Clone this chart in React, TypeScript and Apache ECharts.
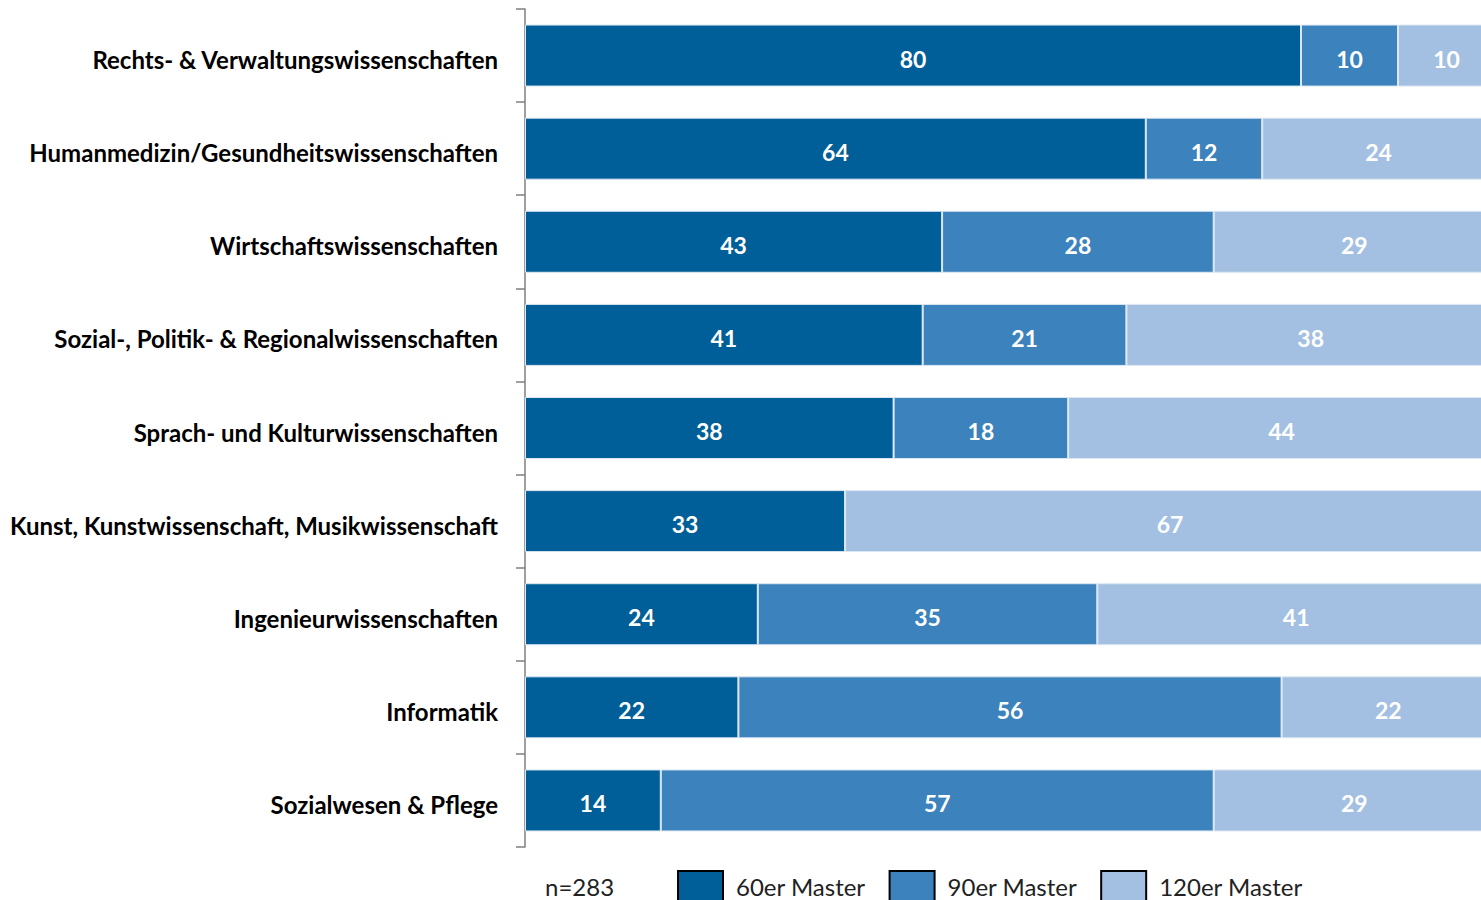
import React, { useEffect, useRef } from "react";
import * as echarts from "echarts";

const categories = [
  "Rechts- & Verwaltungswissenschaften",
  "Humanmedizin/Gesundheitswissenschaften",
  "Wirtschaftswissenschaften",
  "Sozial-, Politik- & Regionalwissenschaften",
  "Sprach- und Kulturwissenschaften",
  "Kunst, Kunstwissenschaft, Musikwissenschaft",
  "Ingenieurwissenschaften",
  "Informatik",
  "Sozialwesen & Pflege",
];
const master60 = [80, 64, 43, 41, 38, 33, 24, 22, 14];
const master90 = [10, 12, 28, 21, 18, 0, 35, 56, 57];
const master120 = [10, 24, 29, 38, 44, 67, 41, 22, 29];
const seriesNames = ["60er Master", "90er Master", "120er Master"];
const colors = ["#005e98", "#3c82bd", "#a3c0e2"];
const noteText = "n=283";

const FONT = "Lato, 'Open Sans', sans-serif";

export default function App() {
  const ref = useRef<HTMLDivElement>(null);
  useEffect(() => {
    document.body.style.margin = "0";
    document.body.style.overflow = "hidden";
    const chart = echarts.init(ref.current!, undefined, { renderer: "svg" });
    const data = [master60, master90, master120];
    chart.setOption({
      animation: false,
      textStyle: { fontFamily: FONT },
      grid: {
        left: 525,
        top: 9,
        width: 970,
        height: 838,
        containLabel: false,
        outerBoundsMode: "none",
      },
      xAxis: { type: "value", min: 0, max: 100, show: false },
      yAxis: {
        type: "category",
        data: categories,
        inverse: true,
        axisLine: { show: true, lineStyle: { color: "#7f7f7f", width: 1.5 } },
        axisTick: { show: true, length: 9, lineStyle: { color: "#7f7f7f", width: 1.5 } },
        axisLabel: {
          margin: 27,
          formatter: (v: string) => `{c|${v}}`,
          rich: {
            c: {
              color: "#000",
              fontWeight: "bold",
              fontSize: 24,
              fontFamily: FONT,
              padding: [8, 0, 0, 0],
            },
          },
        },
      },
      legend: {
        left: 677,
        top: 870,
        padding: 0,
        itemWidth: 45,
        itemHeight: 30,
        itemGap: 23,
        icon: "rect",
        data: seriesNames,
        textStyle: { fontSize: 24, color: "#222", fontFamily: FONT, padding: [0, 0, 2, 8] },
        itemStyle: { borderColor: "#000", borderWidth: 2 },
      },
      graphic: [
        {
          type: "text",
          left: 545,
          top: 874,
          style: { text: noteText, fill: "#222", font: `24px ${FONT}` },
        },
      ],
      series: seriesNames.map((name, i) => ({
        name,
        type: "bar",
        stack: "total",
        barWidth: 62,
        data: data[i],
        itemStyle: { color: colors[i], borderColor: "#dce7f2", borderWidth: 1 },
        label: {
          show: true,
          position: "inside",
          color: "#fff",
          fontWeight: "bold",
          fontSize: 23,
          fontFamily: FONT,
          offset: [0, 3],
          formatter: (p: any) => (p.value ? String(p.value) : ""),
        },
      })),
    });
    return () => chart.dispose();
  }, []);
  return <div ref={ref} style={{ width: 1481, height: 900 }} />;
}
